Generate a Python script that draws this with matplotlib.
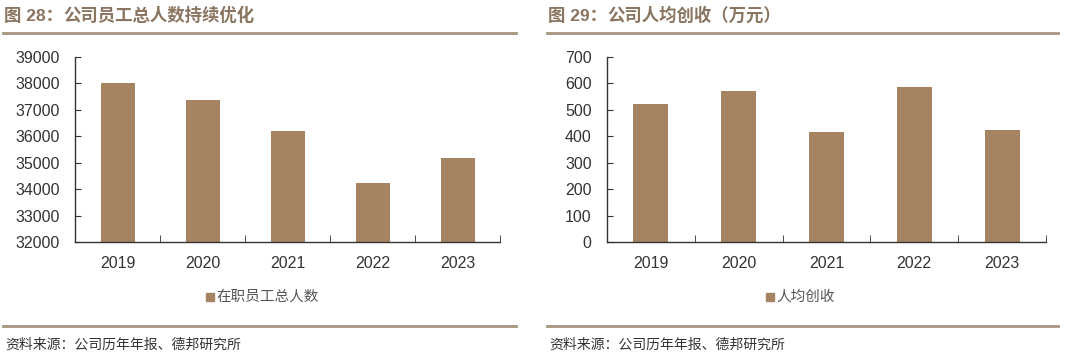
import matplotlib
matplotlib.use("Agg")
import matplotlib.pyplot as plt
import numpy as np

plt.rcParams['font.family'] = ['Liberation Sans', 'Noto Sans CJK SC', 'DejaVu Sans']

years = ["2019", "2020", "2021", "2022", "2023"]
employees = [38030, 37370, 36210, 34220, 35190]
rev_per_capita = [522, 573, 416, 585, 424]

left_title_num = "图 28："
left_title_txt = "公司员工总人数持续优化"
right_title_num = "图 29："
right_title_txt = "公司人均创收（万元）"
left_legend = "在职员工总人数"
right_legend = "人均创收"
source = "资料来源：公司历年年报、德邦研究所"

BAR = "#A68461"
TITLE_C = "#8A7560"
LINE_C = "#A89580"

W, H = 1080, 358
fig = plt.figure(figsize=(W / 100, H / 100), dpi=100)

def fx(px):
    return px / W

def fy(py):
    return 1 - py / H

def draw_panel(x0, x1, ylim, yticks, values, legend, title_num, title_txt, tx, line_x0, line_x1, leg_x):
    ax = fig.add_axes([fx(x0), fy(242), fx(x1 - x0), (242 - 57) / H])
    x = np.arange(len(years))
    ax.bar(x, [v - ylim[0] for v in values], bottom=ylim[0], width=0.40, color=BAR)
    ax.set_xlim(-0.5, len(years) - 0.5)
    ax.set_ylim(*ylim)
    ax.set_yticks(yticks)
    ax.set_yticklabels([str(t) for t in yticks], fontsize=11.5, color="#333333")
    ax.set_xticks(x)
    ax.set_xticklabels(years, fontsize=11.5, color="#333333")
    ax.set_xticks(np.arange(len(years) + 1) - 0.5, minor=True)
    ax.tick_params(axis='x', which='major', length=0, pad=10)
    ax.tick_params(axis='x', which='minor', direction='in', length=5, color="#333333")
    ax.tick_params(axis='y', direction='in', length=4, color="#333333", pad=11)
    for s in ['top', 'right']:
        ax.spines[s].set_visible(False)
    for s in ['left', 'bottom']:
        ax.spines[s].set_color("#333333")
        ax.spines[s].set_linewidth(1.0)
    # title
    t1 = fig.text(fx(tx), fy(16), title_num, fontsize=12.5, fontweight='bold', color=TITLE_C,
                  va='center', ha='left', family=['Liberation Sans', 'Noto Sans CJK SC'])
    fig.canvas.draw()
    bb = t1.get_window_extent()
    fig.text(bb.x1 / W, fy(16), title_txt, fontsize=12.5, fontweight='bold', color=TITLE_C,
             va='center', ha='left', family=['Noto Sans CJK SC'])
    fig.add_artist(plt.Line2D([fx(line_x0), fx(line_x1)], [fy(33), fy(33)], color=LINE_C, lw=2.0))
    fig.add_artist(plt.Line2D([fx(line_x0), fx(line_x1)], [fy(326), fy(326)], color=LINE_C, lw=2.0))
    # legend
    lt = fig.text(fx(leg_x + 6), fy(297), legend, fontsize=10.5, color="#555555",
                  va='center', ha='center', family=['Noto Sans CJK SC'])
    fig.canvas.draw()
    lb = lt.get_window_extent()
    sq = 8
    fig.add_artist(plt.Rectangle(((lb.x0 - sq - 3) / W, fy(297) - sq / 2 / H), sq / W, sq / H,
                                 color=BAR, transform=fig.transFigure))
    fig.text(fx(line_x0 + 2), fy(345), source, fontsize=10, color="#333333",
             va='center', ha='left', family=['Noto Sans CJK SC'])
    return ax

draw_panel(75, 500, (32000, 39000), list(range(32000, 39001, 1000)), employees,
           left_legend, left_title_num, left_title_txt, 4, 3, 516, 262)
draw_panel(607, 1046, (0, 700), list(range(0, 701, 100)), rev_per_capita,
           right_legend, right_title_num, right_title_txt, 548, 547, 1058, 800)

fig.savefig("out.png", dpi=100, facecolor="white")
